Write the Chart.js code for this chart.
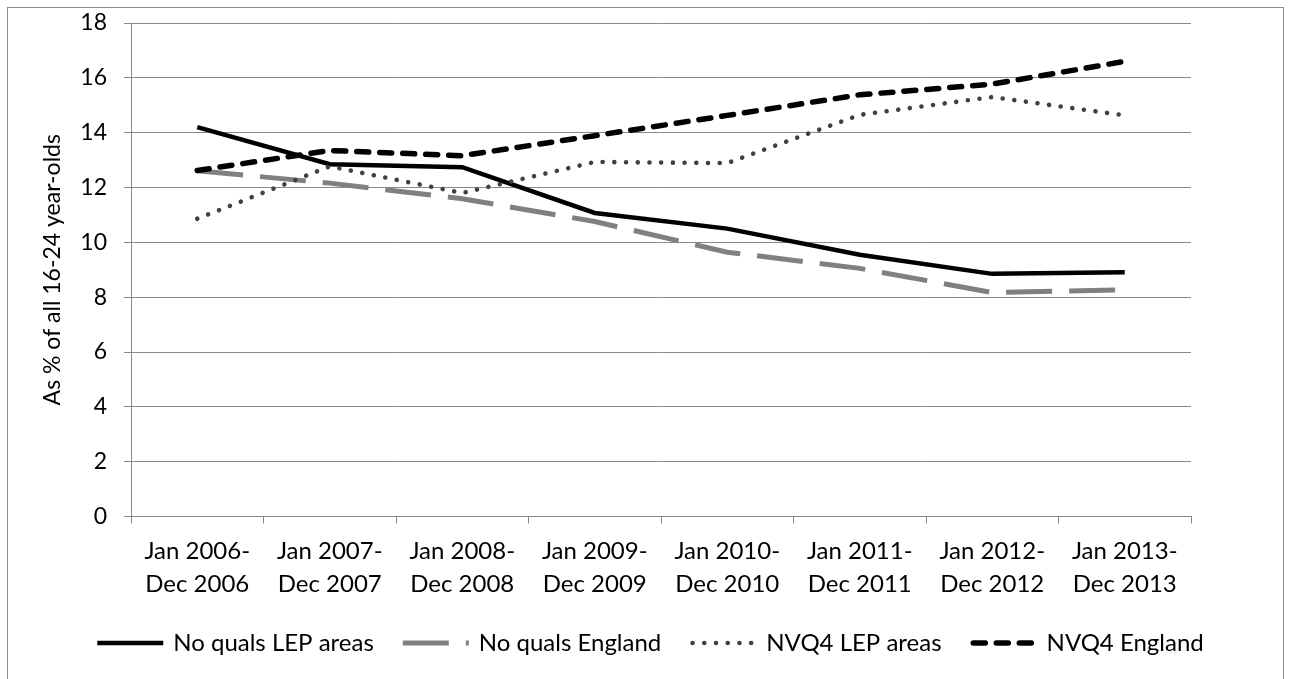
<!DOCTYPE html>
<html>
<head>
<meta charset="utf-8">
<script src="https://cdn.jsdelivr.net/npm/chart.js@4/dist/chart.umd.min.js"></script>
<style>
  html, body { margin: 0; padding: 0; background: #fff; }
  #wrap { position: relative; width: 1290px; height: 679px; overflow: hidden; }
  #frame { position: absolute; left: 7px; top: 7px; width: 1277px; height: 700px;
           box-sizing: border-box; border: 1px solid #8c8c8c; pointer-events: none; }
  canvas { position: absolute; left: 0; top: 0; }
</style>
</head>
<body>
<div id="wrap">
  <canvas id="c" width="1290" height="679"></canvas>
  <div id="frame"></div>
</div>
<script>
// Twelve-month periods (two-line axis labels)
const periods = [
  ["Jan 2006-", "Dec 2006"],
  ["Jan 2007-", "Dec 2007"],
  ["Jan 2008-", "Dec 2008"],
  ["Jan 2009-", "Dec 2009"],
  ["Jan 2010-", "Dec 2010"],
  ["Jan 2011-", "Dec 2011"],
  ["Jan 2012-", "Dec 2012"],
  ["Jan 2013-", "Dec 2013"]
];

// Share of all 16-24 year-olds (%)
const noQualsLEP     = [14.2, 12.85, 12.74, 11.07, 10.5, 9.55, 8.85, 8.91];
const noQualsEngland = [12.61, 12.16, 11.59, 10.76, 9.64, 9.05, 8.17, 8.27];
const nvq4LEP        = [10.86, 12.77, 11.8, 12.93, 12.89, 14.65, 15.3, 14.63];
const nvq4England    = [12.62, 13.35, 13.16, 13.89, 14.63, 15.38, 15.77, 16.6];

const seriesNames = ["No quals LEP areas", "No quals England", "NVQ4 LEP areas", "NVQ4 England"];
const yTitle = "As % of all 16-24 year-olds";

const FONT = "Lato, 'Open Sans', sans-serif";
const gridGrey = "#8a8a8a";

// Legend row drawn under the axis, each key reusing its series' stroke style
const lineKeyLegend = {
  id: "lineKeyLegend",
  afterDraw(chart, args, opts) {
    const ctx = chart.ctx;
    const keyW = opts.keyWidth, gap = opts.textGap, itemGap = opts.itemGap;
    ctx.save();
    ctx.font = opts.fontSize + "px " + FONT;
    const items = chart.data.datasets.map(ds => ({ ds, w: ctx.measureText(ds.label).width }));
    const total = items.reduce((s, it) => s + keyW + gap + it.w, 0) + itemGap * (items.length - 1);
    let x = opts.centerX - total / 2;
    const y = opts.y;
    items.forEach(({ ds, w }) => {
      ctx.save();
      ctx.strokeStyle = ds.borderColor;
      ctx.lineWidth = ds.borderWidth;
      ctx.lineCap = ds.borderCapStyle || "butt";
      ctx.setLineDash(ds.borderDash || []);
      const inset = ctx.lineCap === "round" ? ds.borderWidth / 2 : 0;
      ctx.beginPath();
      ctx.moveTo(x + inset, y);
      ctx.lineTo(x + keyW - inset, y);
      ctx.stroke();
      ctx.restore();
      ctx.fillStyle = "#000";
      ctx.textBaseline = "middle";
      ctx.textAlign = "left";
      ctx.fillText(ds.label, x + keyW + gap, y);
      x += keyW + gap + w + itemGap;
    });
    ctx.restore();
  }
};

new Chart(document.getElementById("c"), {
  type: "line",
  plugins: [lineKeyLegend],
  data: {
    labels: periods,
    datasets: [
      { label: seriesNames[0], data: noQualsLEP, borderColor: "#000000", backgroundColor: "#000000",
        borderWidth: 4.5, borderCapStyle: "butt", order: 4 },
      { label: seriesNames[1], data: noQualsEngland, borderColor: "#808080", backgroundColor: "#808080",
        borderWidth: 5, borderDash: [46, 17], borderCapStyle: "butt", order: 3 },
      { label: seriesNames[2], data: nvq4LEP, borderColor: "#404040", backgroundColor: "#404040",
        borderWidth: 4.6, borderDash: [0.01, 11.7], borderCapStyle: "round", order: 2 },
      { label: seriesNames[3], data: nvq4England, borderColor: "#000000", backgroundColor: "#000000",
        borderWidth: 5.5, borderDash: [12, 11], borderCapStyle: "round", order: 1 }
    ]
  },
  options: {
    responsive: false,
    animation: false,
    events: [],
    elements: { point: { radius: 0, hoverRadius: 0 }, line: { tension: 0 } },
    layout: { padding: { left: 0, top: 23, right: 99, bottom: 73.5 } },
    scales: {
      x: {
        offset: true,
        grid: { offset: true, drawOnChartArea: false, drawTicks: true, tickLength: 7, color: gridGrey, lineWidth: 1 },
        border: { display: true, color: gridGrey, width: 1 },
        ticks: { color: "#000", autoSkip: false, maxRotation: 0, padding: 12,
                 font: { family: FONT, size: 24, lineHeight: 1.35 } },
        afterFit: (s) => { s.height = 89; }
      },
      y: {
        min: 0, max: 18,
        grid: { color: gridGrey, lineWidth: 1, drawTicks: true, tickLength: 7 },
        border: { display: true, color: gridGrey, width: 1 },
        ticks: { stepSize: 2, color: "#000", padding: 17, font: { family: FONT, size: 23 } },
        title: { display: true, text: yTitle, color: "#000", padding: { top: 39, bottom: 0 },
                 font: { family: FONT, size: 23, weight: "normal" } },
        afterFit: (s) => { s.width = 131; s.paddingTop = 0; s.paddingBottom = 0; }
      }
    },
    plugins: {
      tooltip: { enabled: false },
      legend: { display: false },
      lineKeyLegend: { keyWidth: 66, textGap: 10, itemGap: 29, fontSize: 24, centerX: 650.5, y: 643 }
    }
  }
});
</script>
</body>
</html>
